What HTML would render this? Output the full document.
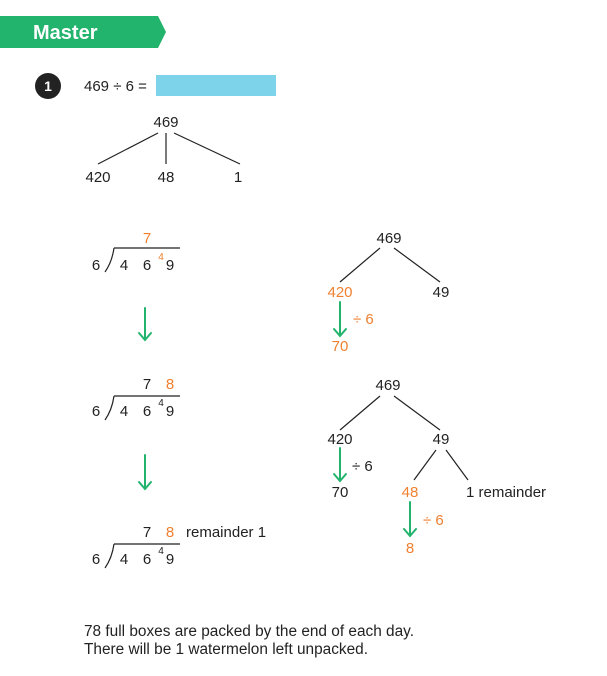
<!DOCTYPE html>
<html><head><meta charset="utf-8"><style>
html,body{margin:0;padding:0;background:#fff;}
svg{display:block;}
text{font-family:"Liberation Sans",sans-serif;font-size:15px;fill:#222;}
.o{fill:#f08030;}
.c{text-anchor:middle;}
</style></head><body>
<svg width="607" height="676" viewBox="0 0 607 676" xmlns="http://www.w3.org/2000/svg">
<polygon points="0,16 158,16 166,32 158,48 0,48" fill="#22b46c"/>
<text x="33" y="39" style="font-size:20px;font-weight:bold;fill:#fff">Master</text>
<circle cx="48" cy="86" r="13" fill="#222"/>
<text x="48" y="91" class="c" style="fill:#fff;font-weight:bold;font-size:14px">1</text>
<text x="84" y="91">469 ÷ 6 =</text>
<rect x="156" y="75" width="120" height="21" fill="#7dd3ea"/>
<g stroke="#222" stroke-width="1.2" fill="none">
<line x1="158" y1="133" x2="98" y2="164"/><line x1="166" y1="133" x2="166" y2="164"/><line x1="174" y1="133" x2="240" y2="164"/>
<line x1="380" y1="248" x2="340" y2="282"/><line x1="394" y1="248" x2="440" y2="282"/>
<line x1="380" y1="396" x2="340" y2="430"/><line x1="394" y1="396" x2="440" y2="430"/>
<line x1="436" y1="450" x2="414" y2="480"/><line x1="446" y1="450" x2="468" y2="480"/>
<path d="M114,248 H180 M114,248 Q112,262 105,272"/>
<path d="M114,396 H180 M114,396 Q112,410 105,420"/>
<path d="M114,544 H180 M114,544 Q112,558 105,568"/>
</g>
<text x="166" y="127" class="c">469</text>
<text x="98" y="182" class="c">420</text><text x="166" y="182" class="c">48</text><text x="238" y="182" class="c">1</text>
<text x="147" y="243" class="c o">7</text>
<text x="96" y="270" class="c">6</text><text x="124" y="270" class="c">4</text><text x="147" y="270" class="c">6</text><text x="161" y="260" class="c o" style="font-size:10px">4</text><text x="170" y="270" class="c">9</text>
<g stroke="#22b46c" stroke-width="2" fill="none" stroke-linecap="round">
<path d="M145,308 V340 M139,333 L145,340 L151,333"/>
<path d="M145,455 V489 M139,482 L145,489 L151,482"/>
<path d="M340,302 V336 M334,329 L340,336 L346,329"/>
<path d="M340,448 V481 M334,474 L340,481 L346,474"/>
<path d="M410,502 V536 M404,529 L410,536 L416,529"/>
</g>
<text x="147" y="389" class="c">7</text><text x="170" y="389" class="c o">8</text>
<text x="96" y="416" class="c">6</text><text x="124" y="416" class="c">4</text><text x="147" y="416" class="c">6</text><text x="161" y="406" class="c" style="font-size:10px">4</text><text x="170" y="416" class="c">9</text>
<text x="147" y="537" class="c">7</text><text x="170" y="537" class="c o">8</text><text x="186" y="537">remainder 1</text>
<text x="96" y="564" class="c">6</text><text x="124" y="564" class="c">4</text><text x="147" y="564" class="c">6</text><text x="161" y="554" class="c" style="font-size:10px">4</text><text x="170" y="564" class="c">9</text>
<text x="389" y="243" class="c">469</text>
<text x="340" y="297" class="c o">420</text><text x="441" y="297" class="c">49</text>
<text x="353" y="324" class="o">÷ 6</text>
<text x="340" y="351" class="c o">70</text>
<text x="388" y="390" class="c">469</text>
<text x="340" y="444" class="c">420</text><text x="441" y="444" class="c">49</text>
<text x="352" y="471">÷ 6</text>
<text x="340" y="497" class="c">70</text>
<text x="410" y="497" class="c o">48</text><text x="466" y="497">1 remainder</text>
<text x="423" y="525" class="o">÷ 6</text>
<text x="410" y="553" class="c o">8</text>
<text x="84" y="636" style="font-size:15.4px">78 full boxes are packed by the end of each day.</text>
<text x="84" y="654" style="font-size:15.4px">There will be 1 watermelon left unpacked.</text>
</svg>
</body></html>
